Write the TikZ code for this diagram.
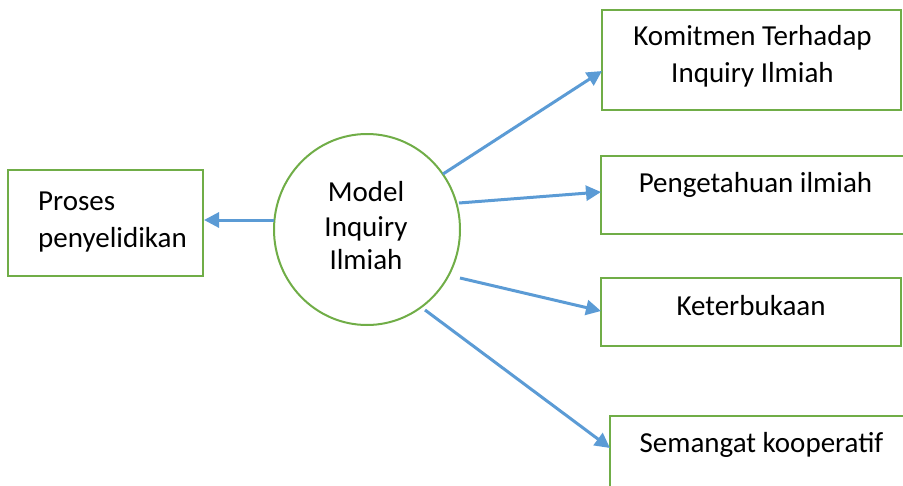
\documentclass[tikz,border=0pt]{standalone}
\usepackage{fontspec}
\setmainfont{Carlito}
\usetikzlibrary{arrows.meta,shapes.geometric}
\definecolor{boxgreen}{HTML}{70AD47}
\definecolor{linkblue}{HTML}{5B9BD5}
\begin{document}
\begin{tikzpicture}[x=1pt,y=-1pt,
  frame/.style={draw=boxgreen,line width=2pt,inner sep=0pt,rectangle},
  link/.style={draw=linkblue,line width=3pt,-{Triangle[length=15pt,width=15pt]}},
  txt/.style={anchor=base,font=\fontsize{29}{35}\selectfont,inner sep=0pt}]
\useasboundingbox (0,0) rectangle (903,485);

% central ellipse
\node[draw=boxgreen,line width=2pt,ellipse,minimum width=186pt,minimum height=191pt,inner sep=0pt] (m) at (367,229.5) {};
\node[txt] (m1) at (366,201.5) {Model};
\node[txt] (m2) at (366,236) {Inquiry};
\node[txt] (m3) at (366,269) {Ilmiah};

% left box
\node[frame,minimum width=195pt,minimum height=106pt] (p) at (105.5,223) {};
\node[txt,anchor=base west] (p1) at (38,210) {Proses};
\node[txt,anchor=base west] (p2) at (38,247) {penyelidikan};

% right boxes
\node[frame,minimum width=299pt,minimum height=100pt] (k) at (751.5,60) {};
\node[txt] (k1) at (752.5,45) {Komitmen Terhadap};
\node[txt] (k2) at (752.5,82) {Inquiry Ilmiah};

\node[frame,minimum width=310pt,minimum height=78pt] (g) at (756,195) {};
\node[txt] (g1) at (755.5,192) {Pengetahuan ilmiah};

\node[frame,minimum width=300pt,minimum height=68pt] (t) at (751,312) {};
\node[txt] (t1) at (751,315) {Keterbukaan};

\node[frame,minimum width=310pt,minimum height=110pt] (s) at (765,471) {};
\node[txt] (s1) at (761.5,452) {Semangat kooperatif};

% connector ends
\coordinate (a0) at (274,220);
\coordinate (z0) at (204,220);
\coordinate (a1) at (443,174);
\coordinate (z1) at (602,71);
\coordinate (a2) at (459,203);
\coordinate (z2) at (601,192);
\coordinate (a3) at (460,278);
\coordinate (z3) at (601,311);
\coordinate (a4) at (425,310);
\coordinate (z4) at (610,448);

\draw[link] (a0) -- (z0);
\draw[link] (a1) -- (z1);
\draw[link] (a2) -- (z2);
\draw[link] (a3) -- (z3);
\draw[link] (a4) -- (z4);
\end{tikzpicture}
\end{document}
